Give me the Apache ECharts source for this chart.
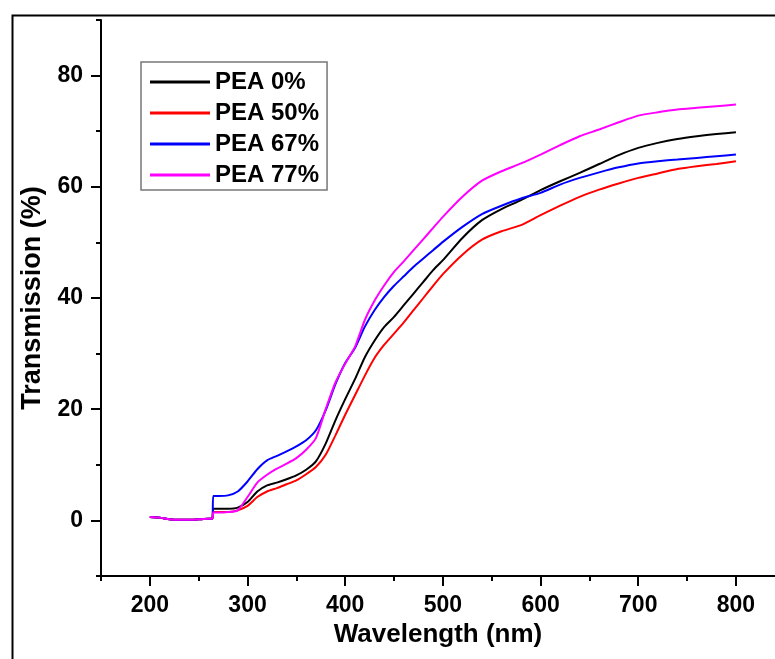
<!DOCTYPE html>
<html>
<head>
<meta charset="utf-8">
<title>Transmission</title>
<script src="https://cdn.jsdelivr.net/npm/echarts@6/dist/echarts.min.js"></script>
<style>
  html, body { margin: 0; padding: 0; background: #fff; }
  #main { width: 775px; height: 659px; }
</style>
</head>
<body>
<div id="main"></div>
<script>
// wavelength (nm)
let wavelength = [200, 210, 220, 230, 240, 250, 260, 264, 265, 270,
  280, 290, 300, 310, 320, 330, 340, 350, 360, 370, 380, 390, 400, 410, 420, 430, 440, 450, 460, 470, 480, 490, 500,
  520, 540, 560, 580, 600, 620, 640, 660, 680, 700, 720, 740, 760, 780, 800]

// transmission (%)
let pea0 = [0.6, 0.5, 0.2, 0.1, 0.1, 0.2, 0.3, 0.3, 2.1, 2.1,
  2.1, 2.3, 3.3, 5.2, 6.3, 6.8, 7.4, 8.1, 9.1, 10.6, 13.8, 18.0, 21.8, 25.4, 29.3, 32.3, 34.8, 36.6, 38.7, 40.8, 42.9, 45.0, 46.8,
  50.8, 54.0, 56.0, 57.6, 59.4, 61.0, 62.5, 64.1, 65.7, 67.0, 67.9, 68.6, 69.1, 69.5, 69.8]
let pea50 = [0.6, 0.5, 0.2, 0.1, 0.1, 0.2, 0.3, 0.3, 1.5, 1.5,
  1.5, 1.8, 2.6, 4.2, 5.2, 5.8, 6.5, 7.2, 8.3, 9.6, 11.8, 15.3, 19.0, 22.5, 26.0, 29.2, 31.6, 33.6, 35.6, 37.8, 40.0, 42.2, 44.3,
  47.8, 50.5, 52.0, 53.1, 54.9, 56.6, 58.2, 59.5, 60.6, 61.6, 62.4, 63.2, 63.7, 64.1, 64.6]
let pea67 = [0.6, 0.5, 0.2, 0.1, 0.1, 0.2, 0.3, 0.3, 4.4, 4.4,
  4.5, 5.2, 7.0, 9.2, 10.8, 11.6, 12.4, 13.3, 14.4, 16.2, 19.8, 24.5, 28.3, 31.0, 34.8, 37.8, 40.2, 42.2, 43.9, 45.6, 47.1, 48.6, 50.1,
  52.8, 55.1, 56.6, 57.9, 58.9, 60.4, 61.6, 62.6, 63.5, 64.2, 64.6, 64.9, 65.2, 65.5, 65.8]
let pea77 = [0.6, 0.5, 0.2, 0.1, 0.1, 0.2, 0.3, 0.3, 1.4, 1.4,
  1.5, 1.8, 4.2, 6.8, 8.2, 9.3, 10.2, 11.2, 12.7, 14.8, 20.0, 24.8, 28.2, 31.2, 36.0, 39.5, 42.3, 44.7, 46.6, 48.6, 50.6, 52.6, 54.6,
  58.2, 61.1, 62.8, 64.2, 65.8, 67.5, 69.1, 70.3, 71.6, 72.8, 73.4, 73.9, 74.2, 74.5, 74.8]

let seriesNames = ['PEA 0%', 'PEA 50%', 'PEA 67%', 'PEA 77%']
let seriesColors = ['#000000', '#ff0000', '#0000ff', '#ff00ff']
let seriesValues = [pea0, pea50, pea67, pea77]

// tick labels
let xMajorTicks = [200, 300, 400, 500, 600, 700, 800]
let xMinorTicks = [150, 250, 350, 450, 550, 650, 750]
let yMajorTicks = [0, 20, 40, 60, 80]
let yMinorTicks = [-10, 10, 30, 50, 70, 90]

let font = '"Liberation Sans", Arial, sans-serif'
let myChart = echarts.init(document.getElementById('main'))

let tickLine = { color: '#000', width: 2 }

let option = {
  animation: false,
  backgroundColor: '#ffffff',
  graphic: [{
    type: 'rect',
    left: 10,
    top: 13,
    shape: { width: 900, height: 800 },
    style: { fill: 'none', stroke: '#000', lineWidth: 2 }
  }],
  grid: { left: 101, top: 20, right: 0, bottom: 83 },
  legend: {
    orient: 'vertical',
    left: 141,
    top: 62,
    data: seriesNames,
    icon: 'rect',
    itemWidth: 60,
    itemHeight: 3,
    itemGap: 7,
    padding: [8, 8, 3, 9],
    borderColor: '#777',
    borderWidth: 1.5,
    textStyle: { fontFamily: font, fontWeight: 'bold', fontSize: 24, lineHeight: 24, color: '#000' }
  },
  xAxis: [{
    type: 'value',
    min: 150,
    max: 840,
    position: 'bottom',
    name: 'Wavelength (nm)',
    nameLocation: 'middle',
    nameGap: 45,
    nameTextStyle: { fontFamily: font, fontWeight: 'bold', fontSize: 26, color: '#000' },
    axisLine: { show: true, onZero: false, lineStyle: tickLine },
    splitLine: { show: false },
    axisTick: { show: true, length: 10, lineStyle: tickLine, customValues: xMajorTicks },
    axisLabel: { fontFamily: font, fontWeight: 'bold', fontSize: 23, color: '#000', margin: 18, customValues: xMajorTicks }
  }, {
    // minor ticks
    type: 'value',
    min: 150,
    max: 840,
    position: 'bottom',
    axisLine: { show: false, onZero: false },
    splitLine: { show: false },
    axisTick: { show: true, length: 5, lineStyle: tickLine, customValues: xMinorTicks },
    axisLabel: { show: false }
  }],
  yAxis: [{
    type: 'value',
    min: -10,
    max: 90,
    position: 'left',
    name: 'Transmission (%)',
    nameLocation: 'middle',
    nameGap: 55,
    nameTextStyle: { fontFamily: font, fontWeight: 'bold', fontSize: 27, color: '#000' },
    axisLine: { show: true, onZero: false, lineStyle: tickLine },
    splitLine: { show: false },
    axisTick: { show: true, length: 10, lineStyle: tickLine, customValues: yMajorTicks },
    axisLabel: { fontFamily: font, fontWeight: 'bold', fontSize: 23, color: '#000', margin: 18, customValues: yMajorTicks }
  }, {
    // minor ticks
    type: 'value',
    min: -10,
    max: 90,
    position: 'left',
    axisLine: { show: false, onZero: false },
    splitLine: { show: false },
    axisTick: { show: true, length: 5, lineStyle: tickLine, customValues: yMinorTicks },
    axisLabel: { show: false }
  }],
  series: seriesNames.map(function (name, index) {
    return {
      name: name,
      type: 'line',
      xAxisIndex: 0,
      yAxisIndex: 0,
      symbol: 'none',
      smooth: 0.2,
      color: seriesColors[index],
      lineStyle: { color: seriesColors[index], width: 2 },
      data: wavelength.map(function (w, i) {
        return [w, seriesValues[index][i]]
      })
    }
  })
}
myChart.setOption(option, true)
</script>
</body>
</html>
